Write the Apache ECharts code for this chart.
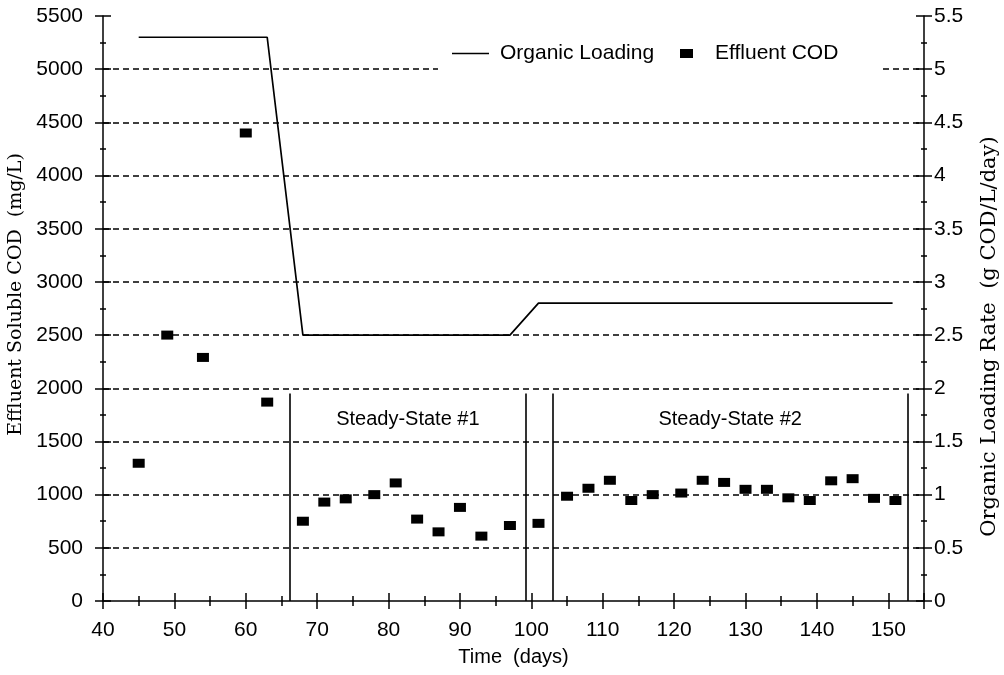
<!DOCTYPE html>
<html>
<head>
<meta charset="utf-8">
<script src="https://cdn.jsdelivr.net/npm/echarts@6/dist/echarts.min.js"></script>
<style>
  html, body { margin: 0; padding: 0; background: #fff; }
  #chart { width: 1004px; height: 675px; }
</style>
</head>
<body>
<div id="chart"></div>
<script>
// Effluent soluble COD samples (mg/L) by day
const days = [45, 49, 54, 60, 63, 68, 71, 74, 78, 81, 84, 87, 90, 93, 97, 101,
  105, 108, 111, 114, 117, 121, 124, 127, 130, 133, 136, 139, 142, 145, 148, 151];
const effluentCOD = [1295, 2500, 2290, 4400, 1870, 750, 930, 960, 1000, 1110, 770, 650, 880, 610, 710, 730,
  985, 1060, 1135, 945, 1000, 1015, 1135, 1115, 1050, 1050, 970, 945, 1130, 1150, 965, 945];

// Organic loading rate schedule (g COD/L/day)
const loadingDays = [45, 63, 68, 97, 101, 150.6];
const loadingRate = [5.3, 5.3, 2.5, 2.5, 2.8, 2.8];

// Steady-state period boundaries (days) and their captions
const steadyStateBounds = [66.2, 99.2, 103, 152.7];
const steadyStateTop = 1950;
const steadyStateNames = ['Steady-State #1', 'Steady-State #2'];
const steadyStateLabelLevel = 1710;

const SANS = 'Liberation Sans';
const SERIF = 'DejaVu Serif';
const INK = '#000';

const codPoints = days.map((d, i) => [d, effluentCOD[i]]);
const loadingPoints = loadingDays.map((d, i) => [d, loadingRate[i]]);
const boundaryLines = steadyStateBounds.map(x => [{ coord: [x, 0] }, { coord: [x, steadyStateTop] }]);
const captionPoints = steadyStateNames.map((name, i) => [
  (steadyStateBounds[2 * i] + steadyStateBounds[2 * i + 1]) / 2, steadyStateLabelLevel, name
]);

const tickLine = { color: INK, width: 1.5 };
const plainNumber = v => String(v);

function xAxisBase(inside) {
  return {
    type: 'value', min: 40, max: 155, interval: 10, position: 'bottom',
    axisLine: { show: !inside, onZero: false, lineStyle: tickLine },
    axisTick: { show: true, inside: inside, length: 8, lineStyle: tickLine },
    minorTick: { show: true, splitNumber: 2, length: 5, lineStyle: tickLine },
    splitLine: { show: false },
    axisLabel: inside ? { show: false } : {
      show: true, margin: 19, color: INK, fontFamily: SANS, fontSize: 21,
      showMaxLabel: false, formatter: plainNumber
    }
  };
}

function yAxisBase(side, max, interval, inside) {
  return {
    type: 'value', min: 0, max: max, interval: interval, position: side,
    axisLine: { show: !inside, onZero: false, lineStyle: tickLine },
    axisTick: { show: true, inside: inside, length: 8, lineStyle: tickLine },
    minorTick: { show: true, splitNumber: 2, length: 3, lineStyle: tickLine },
    splitLine: { show: false },
    axisLabel: { show: false }
  };
}

const leftAxis = Object.assign(yAxisBase('left', 5500, 500, false), {
  axisLabel: { show: true, margin: 20, color: INK, fontFamily: SANS, fontSize: 21, formatter: plainNumber },
  splitLine: {
    show: true, showMinLine: false, showMaxLine: false,
    lineStyle: { color: INK, width: 1.7, type: [6, 4] }
  },
  name: 'Effluent Soluble COD  (mg/L)',
  nameLocation: 'middle', nameGap: 72, nameRotate: 90,
  nameTextStyle: { color: INK, fontFamily: SERIF, fontSize: 19, padding: [0, 0, 0, 28] }
});

const rightAxis = Object.assign(yAxisBase('right', 5.5, 0.5, false), {
  axisLabel: { show: true, margin: 10, color: INK, fontFamily: SANS, fontSize: 21, formatter: plainNumber },
  name: 'Organic Loading Rate  (g COD/L/day)',
  nameLocation: 'middle', nameGap: 55, nameRotate: 90,
  nameTextStyle: { color: INK, fontFamily: SERIF, fontSize: 21, padding: [0, 56, 0, 0] }
});

const timeAxis = Object.assign(xAxisBase(false), {
  name: 'Time  (days)', nameLocation: 'middle', nameGap: 46,
  nameTextStyle: { color: INK, fontFamily: SANS, fontSize: 20 }
});

const option = {
  backgroundColor: '#fff',
  animation: false,
  grid: { left: 103, right: 80, top: 16, bottom: 74, containLabel: false, outerBoundsMode: 'none' },
  xAxis: [timeAxis, xAxisBase(true)],
  yAxis: [
    leftAxis,
    rightAxis,
    yAxisBase('left', 5500, 500, true),
    yAxisBase('right', 5.5, 0.5, true)
  ],
  graphic: [{
    type: 'rect', left: 438, top: 42, z: 3, silent: true,
    shape: { width: 442, height: 32 },
    style: { fill: '#fff' }
  }],
  legend: [{
    data: [{ name: 'Organic Loading', icon: 'rect' }],
    left: 452, top: 43, padding: 0, selectedMode: false,
    itemWidth: 37, itemHeight: 1.6, z: 5,
    itemStyle: { color: INK, opacity: 1 },
    textStyle: { color: INK, fontFamily: SANS, fontSize: 21, padding: [0, 0, 0, 6] }
  }, {
    data: [{ name: 'Effluent COD', icon: 'rect' }],
    left: 680, top: 43, padding: 0, selectedMode: false,
    itemWidth: 13, itemHeight: 9, z: 5,
    itemStyle: { color: INK, opacity: 1 },
    textStyle: { color: INK, fontFamily: SANS, fontSize: 21, padding: [0, 0, 0, 17] }
  }],
  series: [{
    name: 'Organic Loading',
    type: 'line',
    xAxisIndex: 0, yAxisIndex: 1,
    data: loadingPoints,
    symbol: 'none',
    lineStyle: { color: INK, width: 1.7 },
    itemStyle: { color: INK },
    z: 3
  }, {
    name: 'Effluent COD',
    type: 'scatter',
    xAxisIndex: 0, yAxisIndex: 0,
    data: codPoints,
    symbol: 'rect',
    symbolSize: [12, 9],
    itemStyle: { color: INK, opacity: 1 },
    z: 4,
    markLine: {
      silent: true,
      symbol: 'none',
      label: { show: false },
      lineStyle: { color: INK, width: 1.6, type: 'solid', opacity: 1 },
      data: boundaryLines
    }
  }, {
    name: 'captions',
    type: 'scatter',
    xAxisIndex: 0, yAxisIndex: 0,
    data: captionPoints,
    symbol: 'rect',
    symbolSize: 1,
    silent: true,
    itemStyle: { color: '#fff', opacity: 1 },
    label: {
      show: true, position: 'inside', opacity: 1,
      formatter: p => p.value[2],
      color: INK, fontFamily: SANS, fontSize: 20,
      textBorderWidth: 0
    }
  }]
};

const chart = echarts.init(document.getElementById('chart'), null, { renderer: 'canvas' });
chart.setOption(option);
</script>
</body>
</html>
